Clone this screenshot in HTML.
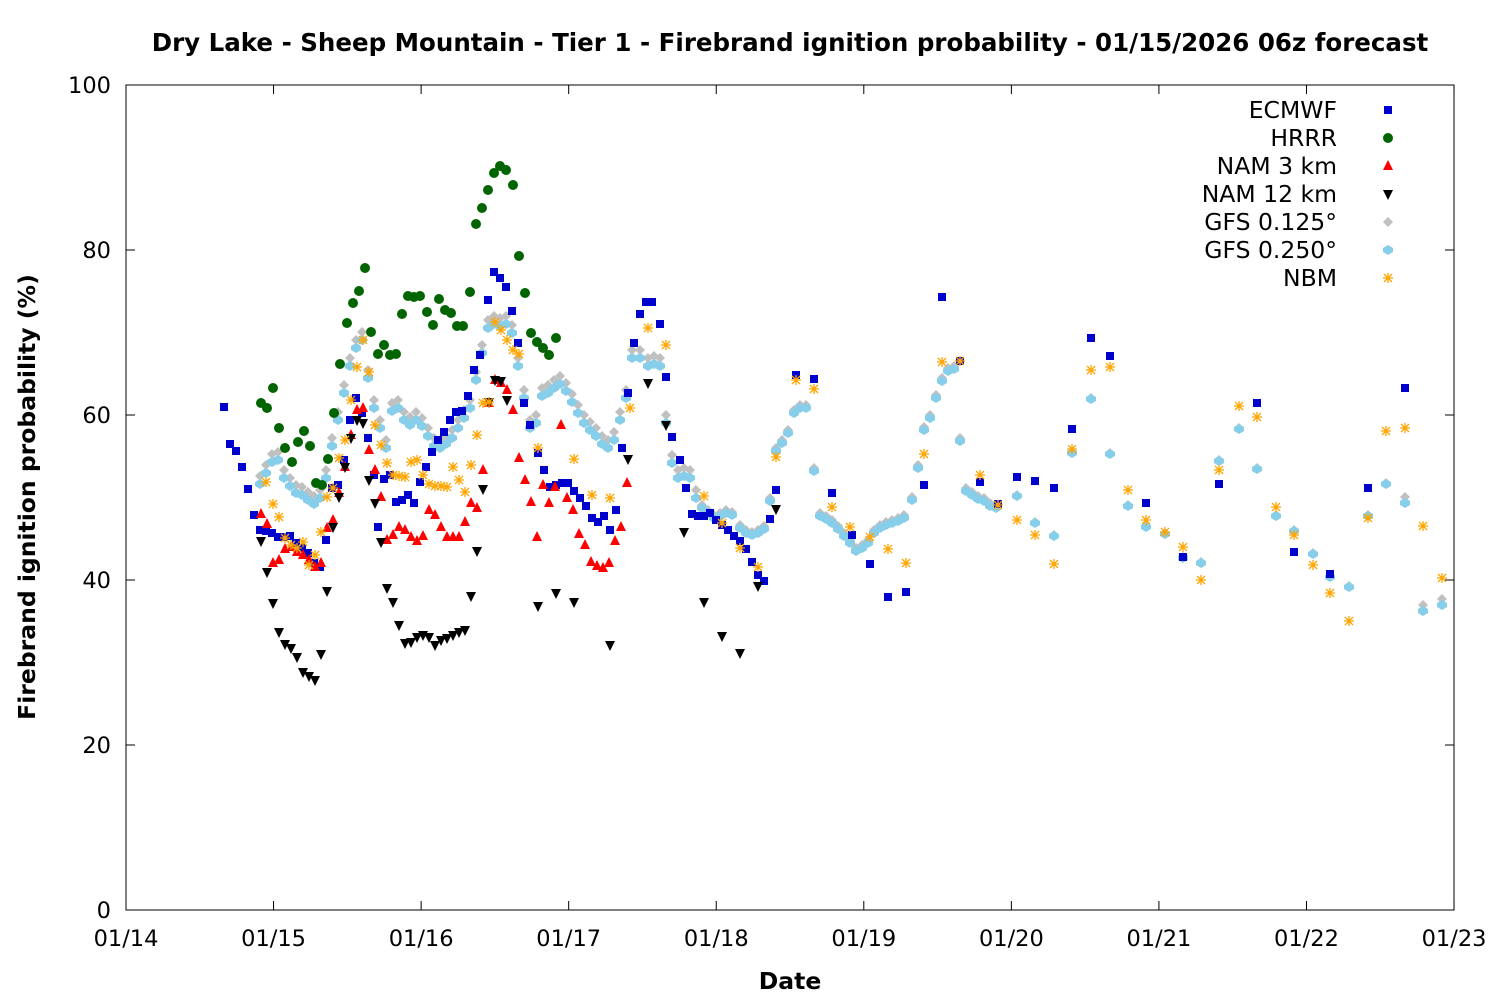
<!DOCTYPE html>
<html><head><meta charset="utf-8"><style>
html,body{margin:0;padding:0;background:#fff;}
svg{display:block;font-family:"DejaVu Sans","Liberation Sans",sans-serif;}
</style></head><body>
<svg id="s" width="1500" height="1000" viewBox="0 0 1500 1000" xmlns="http://www.w3.org/2000/svg">
<rect width="1500" height="1000" fill="#fff"/>
<text x="790" y="51" text-anchor="middle" font-size="24.5" font-weight="bold">Dry Lake - Sheep Mountain - Tier 1 - Firebrand ignition probability - 01/15/2026 06z forecast</text>
<rect x="126" y="85" width="1328" height="825" fill="none" stroke="#000" stroke-width="1"/>
<g id="ticks" stroke="#000" stroke-width="1"></g>
<g id="labels" font-size="22.5" fill="#000"></g>
<text x="790" y="989" text-anchor="middle" font-size="23.5" font-weight="bold">Date</text>
<text transform="translate(35,497) rotate(-90)" text-anchor="middle" font-size="23.5" font-weight="bold">Firebrand ignition probability (%)</text>
<g id="pts"></g>
<g id="legend" font-size="23.5"></g>
</svg>
<script>
var NS="http://www.w3.org/2000/svg";
function el(p,t,a,txt){var e=document.createElementNS(NS,t);for(var k in a)e.setAttribute(k,a[k]);if(txt!==undefined)e.textContent=txt;document.getElementById(p).appendChild(e);return e;}
for(var v=0;v<=100;v+=20){var y=910-v*8.25;el("ticks","line",{x1:126,y1:y,x2:135,y2:y});el("ticks","line",{x1:1454,y1:y,x2:1445,y2:y});el("labels","text",{x:111,y:y+8,"text-anchor":"end"},String(v));}
for(var d=0;d<=9;d++){var x=126+d*147.56;el("ticks","line",{x1:x,y1:910,x2:x,y2:901});el("ticks","line",{x1:x,y1:85,x2:x,y2:94});el("labels","text",{x:x,y:946,"text-anchor":"middle"},"01/"+(14+d));}
function P(s){var a=[],r=/\((\d+),(\d+)\)/g,m;while(m=r.exec(s))a.push([+m[1],+m[2]]);return a;}
function sq(x,y,c){el("pts","rect",{x:x-4,y:y-4,width:8,height:8,fill:c});}
function ci(x,y,c){el("pts","circle",{cx:x,cy:y,r:5,fill:c});}
function tri(x,y,c){el("pts","polygon",{points:(x-5)+","+(y+4)+" "+(x+5)+","+(y+4)+" "+x+","+(y-6),fill:c});}
function itri(x,y,c){el("pts","polygon",{points:(x-5)+","+(y-4)+" "+(x+5)+","+(y-4)+" "+x+","+(y+6),fill:c});}
function dia(x,y,c){el("pts","polygon",{points:(x-5)+","+y+" "+x+","+(y-5)+" "+(x+5)+","+y+" "+x+","+(y+5),fill:c});}
function hex(x,y,c){el("pts","polygon",{points:(x-5)+","+(y-2)+" "+x+","+(y-5)+" "+(x+5)+","+(y-2)+" "+(x+5)+","+(y+2)+" "+x+","+(y+5)+" "+(x-5)+","+(y+2),fill:c});}
function star(x,y,c){var g="M"+(x-5)+" "+y+"H"+(x+5)+"M"+x+" "+(y-5)+"V"+(y+5)+"M"+(x-4)+" "+(y-4)+"L"+(x+4)+" "+(y+4)+"M"+(x-4)+" "+(y+4)+"L"+(x+4)+" "+(y-4);el("pts","path",{d:g,stroke:c,"stroke-width":1.3,fill:"none"});}
var gray=P("(260,476),(266,465),(272,454),(278,452),(284,470),(290,478),(296,485),(302,487),(308,492),(314,496),(320,490),(326,470),(332,438),(338,412),(344,385),(350,358),(356,340),(362,332),(368,370),(374,400),(380,420),(386,440),(392,403),(398,400),(404,412),(410,417),(416,412),(422,418),(428,428),(434,438),(440,440),(446,436),(452,430),(458,420),(464,410),(470,400),(476,372),(482,345),(488,320),(494,316),(500,318),(506,316),(512,325),(518,358),(524,390),(530,420),(536,415),(542,388),(548,385),(554,380),(560,376),(566,383),(572,394),(578,405),(584,415),(590,422),(596,428),(602,436),(608,440),(614,432),(620,412),(626,390),(632,350),(640,350),(648,358),(654,356),(660,358),(666,415),(672,455),(678,470),(684,468),(690,470),(696,490),(702,505),(708,510),(714,515),(720,513),(726,510),(732,512),(740,525),(746,530),(752,532),(758,530),(764,526),(770,498),(776,448),(782,440),(788,430),(794,410),(800,405),(806,405),(814,468),(820,513),(826,516),(832,520),(838,526),(844,533),(850,540),(856,548),(862,545),(868,540),(874,530),(880,525),(886,522),(892,520),(898,518),(904,515),(912,497),(918,465),(924,427),(930,415),(936,395),(942,378),(948,368),(954,366),(960,438),(966,488),(972,492),(978,496),(984,498),(990,503),(996,505),(1017,495),(1035,522),(1054,535),(1072,452),(1091,398),(1110,453),(1128,505),(1146,526),(1165,533),(1183,557),(1201,562),(1219,460),(1239,428),(1257,468),(1276,515),(1294,530),(1313,553),(1330,576),(1349,586),(1368,515),(1386,483),(1405,497),(1423,605),(1442,599)");
gray.forEach(function(p){dia(p[0],p[1],"#c0c0c0");});
gray.forEach(function(p){var off=p[0]<700?8:(p[0]<1000?3:1);if(p[0]>1400)off=6;hex(p[0],p[1]+off,"#87ceeb");});
P("(224,407),(230,444),(236,451),(242,467),(248,489),(254,515),(260,530),(266,531),(272,533),(278,537),(284,537),(290,536),(296,543),(302,548),(308,553),(314,563),(320,567),(326,540),(332,488),(338,485),(344,460),(350,420),(356,398),(362,413),(368,438),(374,475),(378,527),(384,479),(390,475),(396,502),(402,500),(408,495),(414,503),(420,482),(426,467),(432,452),(438,440),(444,432),(450,420),(456,412),(462,411),(468,396),(474,370),(480,355),(488,300),(494,272),(500,278),(506,287),(512,311),(518,343),(524,403),(530,425),(538,453),(544,470),(550,487),(556,485),(562,483),(568,483),(574,491),(580,498),(586,506),(592,518),(598,522),(604,516),(610,530),(616,510),(622,448),(628,393),(634,343),(640,314),(646,302),(652,302),(660,324),(666,377),(672,437),(680,460),(686,488),(692,514),(698,516),(704,516),(710,513),(716,520),(722,525),(728,530),(734,536),(740,541),(746,549),(752,562),(758,575),(764,581),(770,519),(776,490),(796,375),(814,379),(832,493),(852,535),(870,564),(888,597),(906,592),(924,485),(942,297),(960,361),(980,482),(998,504),(1017,477),(1035,481),(1054,488),(1072,429),(1091,338),(1110,356),(1146,503),(1183,557),(1219,484),(1257,403),(1294,552),(1330,574),(1368,488),(1405,388)").forEach(function(p){sq(p[0],p[1],"#0000cd");});
P("(261,403),(267,408),(273,388),(279,428),(285,448),(292,462),(298,442),(304,431),(310,446),(316,483),(322,485),(328,459),(334,413),(340,364),(347,323),(353,303),(359,291),(365,268),(371,332),(378,354),(384,345),(390,355),(396,354),(402,314),(408,296),(414,297),(420,296),(427,312),(433,325),(439,299),(445,310),(451,313),(457,326),(463,326),(470,292),(476,224),(482,208),(488,190),(494,173),(500,166),(506,170),(513,185),(519,256),(525,293),(531,333),(537,342),(543,348),(549,355),(556,338)").forEach(function(p){ci(p[0],p[1],"#006400");});
P("(261,514),(267,524),(273,563),(279,560),(285,549),(291,547),(297,552),(303,555),(309,560),(315,567),(321,563),(327,528),(333,520),(339,493),(345,467),(351,435),(357,410),(363,408),(369,450),(375,470),(381,497),(387,540),(393,535),(399,527),(405,530),(411,537),(417,541),(423,536),(429,510),(435,515),(441,527),(447,537),(453,537),(459,537),(465,522),(471,503),(477,508),(483,470),(489,403),(495,380),(501,383),(507,390),(513,410),(519,458),(525,480),(531,502),(537,537),(543,485),(549,503),(555,487),(561,425),(567,498),(573,510),(579,534),(585,545),(591,562),(597,566),(603,568),(609,563),(615,541),(621,527),(627,483)").forEach(function(p){tri(p[0],p[1],"#ff0000");});
P("(261,541),(267,572),(273,603),(279,632),(285,644),(291,648),(297,657),(303,672),(309,676),(315,680),(321,654),(327,591),(333,527),(339,497),(345,467),(351,438),(357,420),(363,423),(369,480),(375,503),(381,542),(387,588),(393,602),(399,625),(405,643),(411,642),(417,637),(423,635),(429,637),(435,645),(441,640),(447,638),(453,635),(459,632),(465,630),(471,596),(477,551),(483,489),(489,402),(495,380),(501,381),(507,400),(538,606),(556,593),(574,602),(610,645),(628,459),(648,383),(666,425),(684,532),(704,602),(722,636),(740,653),(758,586),(776,509)").forEach(function(p){itri(p[0],p[1],"#000");});
P("(266,482),(273,504),(279,517),(285,538),(291,545),(297,548),(303,542),(309,565),(315,555),(321,532),(327,497),(333,488),(339,458),(345,440),(351,400),(357,367),(363,340),(369,372),(375,425),(381,445),(387,463),(393,475),(399,476),(405,477),(411,462),(417,460),(423,475),(429,484),(435,486),(441,486),(447,487),(453,467),(459,480),(465,492),(471,465),(477,435),(483,403),(489,402),(495,322),(501,330),(507,340),(513,350),(519,354),(538,448),(574,459),(592,495),(610,498),(630,408),(648,328),(666,345),(704,496),(722,523),(740,548),(758,567),(776,457),(796,380),(814,389),(832,507),(850,527),(870,537),(888,549),(906,563),(924,454),(942,362),(960,361),(980,475),(998,505),(1017,520),(1035,535),(1054,564),(1072,449),(1091,370),(1110,367),(1128,490),(1146,520),(1165,532),(1183,547),(1201,580),(1219,470),(1239,406),(1257,417),(1276,507),(1294,535),(1313,565),(1330,593),(1349,621),(1368,518),(1386,431),(1405,428),(1423,526),(1442,578)").forEach(function(p){star(p[0],p[1],"#ffa500");});
var L=[["ECMWF",sq,"#0000cd"],["HRRR",ci,"#006400"],["NAM 3 km",tri,"#ff0000"],["NAM 12 km",itri,"#000"],["GFS 0.125°",dia,"#c0c0c0"],["GFS 0.250°",hex,"#87ceeb"],["NBM",star,"#ffa500"]];
L.forEach(function(l,i){var y=110+i*28;el("legend","text",{x:1337,y:y+8,"text-anchor":"end"},l[0]);l[1](1388,y,l[2]);});
</script>
</body></html>
